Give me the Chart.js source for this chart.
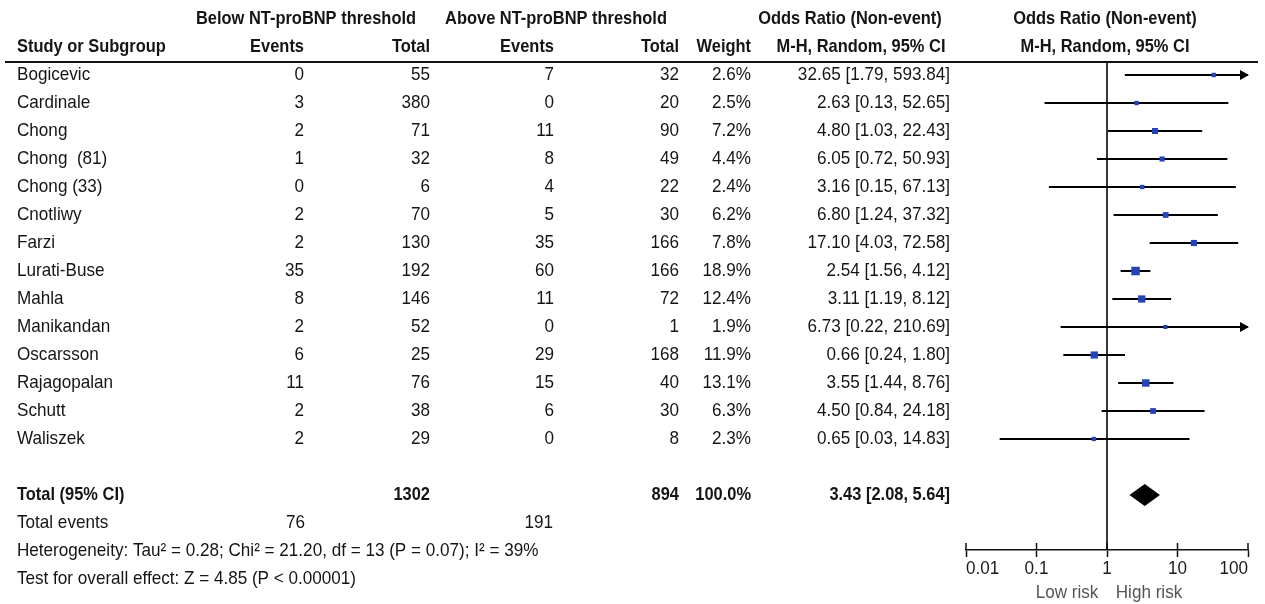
<!DOCTYPE html>
<html><head><meta charset="utf-8">
<script src="https://cdn.jsdelivr.net/npm/chart.js@4.4.0/dist/chart.umd.min.js"></script>
<style>html,body{margin:0;padding:0;background:#fff;overflow:hidden}canvas{display:block}</style>
</head><body>
<canvas id="c" width="1265" height="604"></canvas>
<script>
// ---- data ----
const studies = ['Bogicevic','Cardinale','Chong','Chong  (81)','Chong (33)','Cnotliwy','Farzi','Lurati-Buse','Mahla','Manikandan','Oscarsson','Rajagopalan','Schutt','Waliszek'];
const belowEvents = [0,3,2,1,0,2,2,35,8,2,6,11,2,2];
const belowTotal  = [55,380,71,32,6,70,130,192,146,52,25,76,38,29];
const aboveEvents = [7,0,11,8,4,5,35,60,11,0,29,15,6,0];
const aboveTotal  = [32,20,90,49,22,30,166,166,72,1,168,40,30,8];
const weights     = [2.6,2.5,7.2,4.4,2.4,6.2,7.8,18.9,12.4,1.9,11.9,13.1,6.3,2.3];
const orValues    = [32.65,2.63,4.80,6.05,3.16,6.80,17.10,2.54,3.11,6.73,0.66,3.55,4.50,0.65];
const ciLower     = [1.79,0.13,1.03,0.72,0.15,1.24,4.03,1.56,1.19,0.22,0.24,1.44,0.84,0.03];
const ciUpper     = [593.84,52.65,22.43,50.93,67.13,37.32,72.58,4.12,8.12,210.69,1.80,8.76,24.18,14.83];
const totalOR = 3.43, totalLower = 2.08, totalUpper = 5.64;
const totalBelow = 1302, totalAbove = 894, totalWeight = 100.0;
const eventsBelow = 76, eventsAbove = 191;
const heterogeneityText = 'Heterogeneity: Tau² = 0.28; Chi² = 21.20, df = 13 (P = 0.07); I² = 39%';
const overallText = 'Test for overall effect: Z = 4.85 (P < 0.00001)';
const xTicks = [0.01, 0.1, 1, 10, 100];
const xTickLabels = ['0.01', '0.1', '1', '10', '100'];
const groupHeaders = ['Below NT-proBNP threshold', 'Above NT-proBNP threshold', 'Odds Ratio (Non-event)', 'Odds Ratio (Non-event)'];
const columnHeaders = ['Study or Subgroup', 'Events', 'Total', 'Events', 'Total', 'Weight', 'M-H, Random, 95% CI', 'M-H, Random, 95% CI'];
const axisLabels = ['Low risk', 'High risk'];

// ---- style ----
const FAMILY = "'Liberation Sans', Arial, sans-serif";
const FS = 19;
const SX_NORMAL = 0.9, SX_BOLD = 0.865;
const TXT = '#151515';
const BLUE = '#2443b8';
const XMIN = 0.01, XMAX = 100;
const ROW_TOTAL = studies.length + 2;

function fmtCI(o, l, u) { return o.toFixed(2) + ' [' + l.toFixed(2) + ', ' + u.toFixed(2) + ']'; }
function markSide(w) { return 2 + 1.5 * Math.sqrt(w); }

function drawText(ctx, t, x, y, align, bold, color) {
  ctx.save();
  ctx.font = (bold ? 'bold ' : '') + FS + 'px ' + FAMILY;
  ctx.fillStyle = color || TXT;
  ctx.textBaseline = 'middle';
  ctx.textAlign = align;
  ctx.translate(x, y);
  ctx.scale(bold ? SX_BOLD : SX_NORMAL, 1);
  ctx.fillText(String(t), 0, 0);
  ctx.restore();
}

const tablePlugin = {
  id: 'forest',
  beforeDatasetsDraw(chart) {
    const ctx = chart.ctx, xs = chart.scales.x, ys = chart.scales.y, ca = chart.chartArea;
    ctx.save();
    // reference line at OR = 1
    const x1 = xs.getPixelForValue(1);
    ctx.strokeStyle = '#222'; ctx.lineWidth = 1.8;
    ctx.beginPath(); ctx.moveTo(x1, ca.top); ctx.lineTo(x1, ca.bottom); ctx.stroke();
    // CI lines
    ctx.strokeStyle = '#000'; ctx.fillStyle = '#000'; ctx.lineWidth = 2;
    for (let i = 0; i < studies.length; i++) {
      const y = ys.getPixelForValue(i + 1);
      const a = xs.getPixelForValue(Math.max(ciLower[i], XMIN));
      const b = xs.getPixelForValue(Math.min(ciUpper[i], XMAX));
      ctx.beginPath(); ctx.moveTo(a, y); ctx.lineTo(b, y); ctx.stroke();
      if (ciUpper[i] > XMAX) {
        ctx.beginPath(); ctx.moveTo(b + 1, y); ctx.lineTo(b - 8, y - 5); ctx.lineTo(b - 8, y + 5); ctx.closePath(); ctx.fill();
      }
      if (ciLower[i] < XMIN) {
        ctx.beginPath(); ctx.moveTo(a - 1, y); ctx.lineTo(a + 8, y - 5); ctx.lineTo(a + 8, y + 5); ctx.closePath(); ctx.fill();
      }
    }
    // pooled diamond
    const yt = ys.getPixelForValue(ROW_TOTAL);
    ctx.beginPath();
    ctx.moveTo(xs.getPixelForValue(totalLower), yt);
    ctx.lineTo(xs.getPixelForValue(totalOR), yt - 11);
    ctx.lineTo(xs.getPixelForValue(totalUpper), yt);
    ctx.lineTo(xs.getPixelForValue(totalOR), yt + 11);
    ctx.closePath(); ctx.fill();
    ctx.restore();
  },
  afterDraw(chart) {
    const ctx = chart.ctx, xs = chart.scales.x, ys = chart.scales.y, ca = chart.chartArea;
    const Y = r => ys.getPixelForValue(r);
    const put = (t, x, r, align, bold) => drawText(ctx, t, x, Y(r), align, bold);
    ctx.save();
    // header rule
    ctx.strokeStyle = '#111'; ctx.lineWidth = 2;
    ctx.beginPath(); ctx.moveTo(5, ca.top); ctx.lineTo(1258, ca.top); ctx.stroke();
    // upward tick halves on x axis
    ctx.lineWidth = 1.5;
    xTicks.forEach(v => { const x = xs.getPixelForValue(v); ctx.beginPath(); ctx.moveTo(x, ca.bottom - 7); ctx.lineTo(x, ca.bottom); ctx.stroke(); });
    ctx.restore();
    // tick labels (first/last kept inside the axis)
    xTicks.forEach((v, k) => {
      const align = k === 0 ? 'left' : (k === xTicks.length - 1 ? 'right' : 'center');
      drawText(ctx, xTickLabels[k], xs.getPixelForValue(v), ca.bottom + 19, align, false, '#1a1a1a');
    });
    // headers
    put(groupHeaders[0], 306, -1, 'center', true);
    put(groupHeaders[1], 556, -1, 'center', true);
    put(groupHeaders[2], 850, -1, 'center', true);
    put(groupHeaders[3], 1105, -1, 'center', true);
    put(columnHeaders[0], 17, 0, 'left', true);
    put(columnHeaders[1], 304, 0, 'right', true);
    put(columnHeaders[2], 430, 0, 'right', true);
    put(columnHeaders[3], 554, 0, 'right', true);
    put(columnHeaders[4], 679, 0, 'right', true);
    put(columnHeaders[5], 751, 0, 'right', true);
    put(columnHeaders[6], 861, 0, 'center', true);
    put(columnHeaders[7], 1105, 0, 'center', true);
    // study rows
    for (let i = 0; i < studies.length; i++) {
      const r = i + 1;
      put(studies[i], 17, r, 'left');
      put(belowEvents[i], 304, r, 'right');
      put(belowTotal[i], 430, r, 'right');
      put(aboveEvents[i], 554, r, 'right');
      put(aboveTotal[i], 679, r, 'right');
      put(weights[i].toFixed(1) + '%', 751, r, 'right');
      put(fmtCI(orValues[i], ciLower[i], ciUpper[i]), 950, r, 'right');
    }
    // totals
    put('Total (95% CI)', 17, ROW_TOTAL, 'left', true);
    put(totalBelow, 430, ROW_TOTAL, 'right', true);
    put(totalAbove, 679, ROW_TOTAL, 'right', true);
    put(totalWeight.toFixed(1) + '%', 751, ROW_TOTAL, 'right', true);
    put(fmtCI(totalOR, totalLower, totalUpper), 950, ROW_TOTAL, 'right', true);
    put('Total events', 17, ROW_TOTAL + 1, 'left');
    put(eventsBelow, 305, ROW_TOTAL + 1, 'right');
    put(eventsAbove, 553, ROW_TOTAL + 1, 'right');
    put(heterogeneityText, 17, ROW_TOTAL + 2, 'left');
    put(overallText, 17, ROW_TOTAL + 3, 'left');
    // axis direction labels
    drawText(ctx, axisLabels[0], 1067, 593, 'center', false, '#555');
    drawText(ctx, axisLabels[1], 1149, 593, 'center', false, '#555');
  }
};

new Chart(document.getElementById('c'), {
  type: 'scatter',
  data: {
    datasets: [{
      data: studies.map((s, i) => ({ x: orValues[i], y: i + 1 })),
      pointStyle: 'rect',
      pointRadius: ctx => markSide(weights[ctx.dataIndex]) / Math.SQRT2,
      pointHoverRadius: ctx => markSide(weights[ctx.dataIndex]) / Math.SQRT2,
      backgroundColor: BLUE,
      borderColor: BLUE,
      borderWidth: 0
    }]
  },
  options: {
    responsive: false,
    animation: false,
    devicePixelRatio: 1,
    events: [],
    layout: { padding: { left: 966, right: 17, top: 62, bottom: 0 } },
    plugins: { legend: { display: false }, tooltip: { enabled: false } },
    scales: {
      x: {
        type: 'logarithmic', min: XMIN, max: XMAX,
        afterBuildTicks: s => { s.ticks = xTicks.map(v => ({ value: v })); },
        afterFit: s => { s.height = 54; },
        grid: { drawOnChartArea: false, drawTicks: true, tickLength: 7, tickWidth: 1.5, tickColor: '#111' },
        border: { display: true, color: '#111', width: 1.5 },
        ticks: { display: false }
      },
      y: {
        type: 'linear', display: false, reverse: true,
        min: 1 - 13 / 28, max: 1 + 475 / 28
      }
    }
  },
  plugins: [tablePlugin]
});
</script>
</body></html>
